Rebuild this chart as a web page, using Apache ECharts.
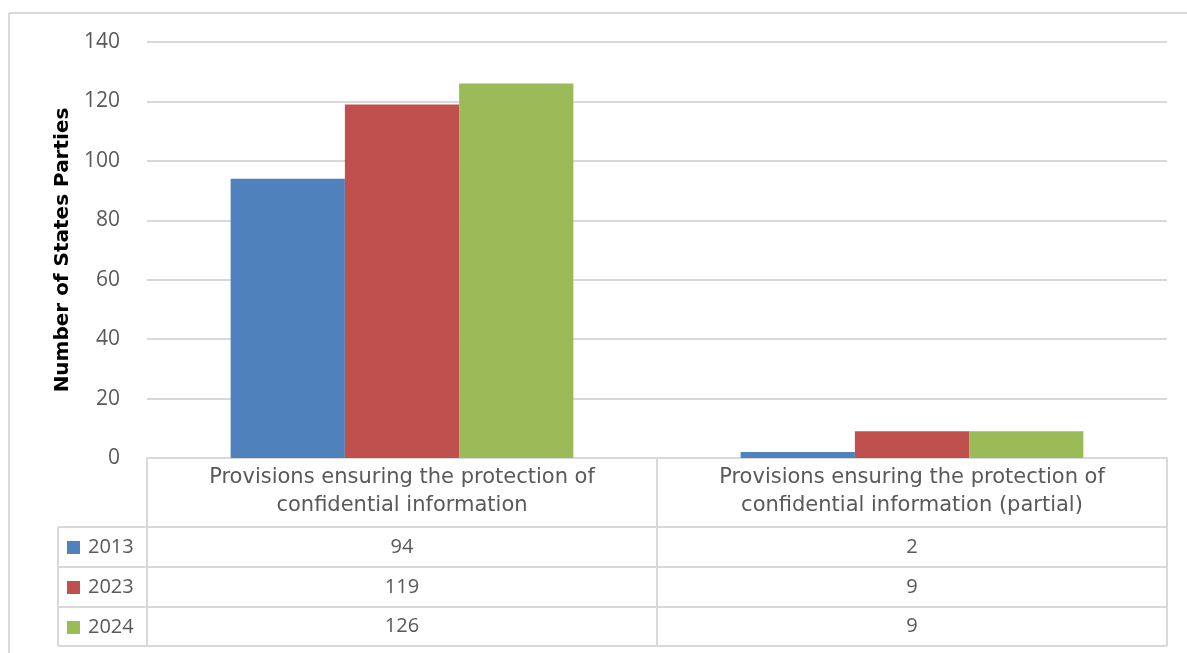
<!DOCTYPE html>
<html><head><meta charset="utf-8">
<script src="https://cdn.jsdelivr.net/npm/echarts@6/dist/echarts.min.js"></script>
<style>html,body{margin:0;padding:0;background:#fff}#c{width:1187px;height:653px}</style>
</head><body><div id="c"></div>
<script>
var categories = ['Provisions ensuring the protection of\nconfidential information', 'Provisions ensuring the protection of\nconfidential information (partial)'];
var years = ['2013', '2023', '2024'];
var values2013 = [94, 2];
var values2023 = [119, 9];
var values2024 = [126, 9];
var colors = ['#4F81BD', '#C0504D', '#9BBB59'];
var yTicks = {min: 0, max: 140, interval: 20};
var allValues = [values2013, values2023, values2024];

var FONT = 'Open Sans';
var WIDE = 'DejaVu Sans';
var GRAY = '#595959';
var LINE = '#d9d9d9';

var chart = echarts.init(document.getElementById('c'));

var xAxes = [{
  type: 'category', data: categories, position: 'bottom',
  axisLine: {show: true, lineStyle: {color: LINE, width: 2}},
  axisTick: {show: false},
  axisLabel: {interval: 0, color: GRAY, fontFamily: WIDE, fontSize: 21, lineHeight: 28, margin: 6}
}];
var rowOffsets = [79, 119, 158];
allValues.forEach(function (vals, i) {
  xAxes.push({
    type: 'category', data: categories, position: 'bottom', offset: rowOffsets[i],
    axisLine: {show: false}, axisTick: {show: false},
    axisLabel: {interval: 0, color: GRAY, fontFamily: FONT, fontSize: 20, lineHeight: 20, margin: 0,
      formatter: (function (v) { return function (val, idx) { return String(v[idx]); }; })(vals)}
  });
});

function hl(x1, x2, y) { return {type: 'line', shape: {x1: x1, y1: y, x2: x2, y2: y}, style: {stroke: LINE, lineWidth: 2}, silent: true}; }
function vl(x, y1, y2) { return {type: 'line', shape: {x1: x, y1: y1, x2: x, y2: y2}, style: {stroke: LINE, lineWidth: 2}, silent: true}; }

var graphics = [
  hl(9, 1187, 13), vl(9, 13, 653),
  vl(147, 459, 646), vl(657, 459, 646), vl(1167, 459, 646),
  vl(58, 527, 646),
  hl(58, 1167, 527), hl(58, 1167, 567), hl(58, 1167, 607), hl(58, 1167, 646)
];

chart.setOption({
  backgroundColor: '#fff',
  animation: false,
  color: colors,
  grid: {left: 147, right: 20, top: 42, bottom: 195, containLabel: false},
  legend: {
    orient: 'vertical', left: 62, top: 532, itemWidth: 13, itemHeight: 13, itemGap: 19,
    icon: 'rect', data: years,
    textStyle: {color: GRAY, fontFamily: FONT, fontSize: 20, lineHeight: 21, padding: [0, 0, 0, 3]}
  },
  xAxis: xAxes,
  yAxis: {
    type: 'value', min: yTicks.min, max: yTicks.max, interval: yTicks.interval,
    name: 'Number of States Parties', nameLocation: 'middle', nameGap: 74,
    nameTextStyle: {color: '#000', fontFamily: WIDE, fontSize: 20, fontWeight: 'bold'},
    axisLine: {show: false}, axisTick: {show: false},
    axisLabel: {color: GRAY, fontFamily: FONT, fontSize: 21, margin: 27},
    splitLine: {lineStyle: {color: LINE, width: 2}}
  },
  series: years.map(function (y, i) {
    return {name: y, type: 'bar', data: allValues[i], barWidth: '22.4%', barGap: '0%',
      itemStyle: {color: colors[i]}};
  }),
  graphic: graphics
});
</script></body></html>
